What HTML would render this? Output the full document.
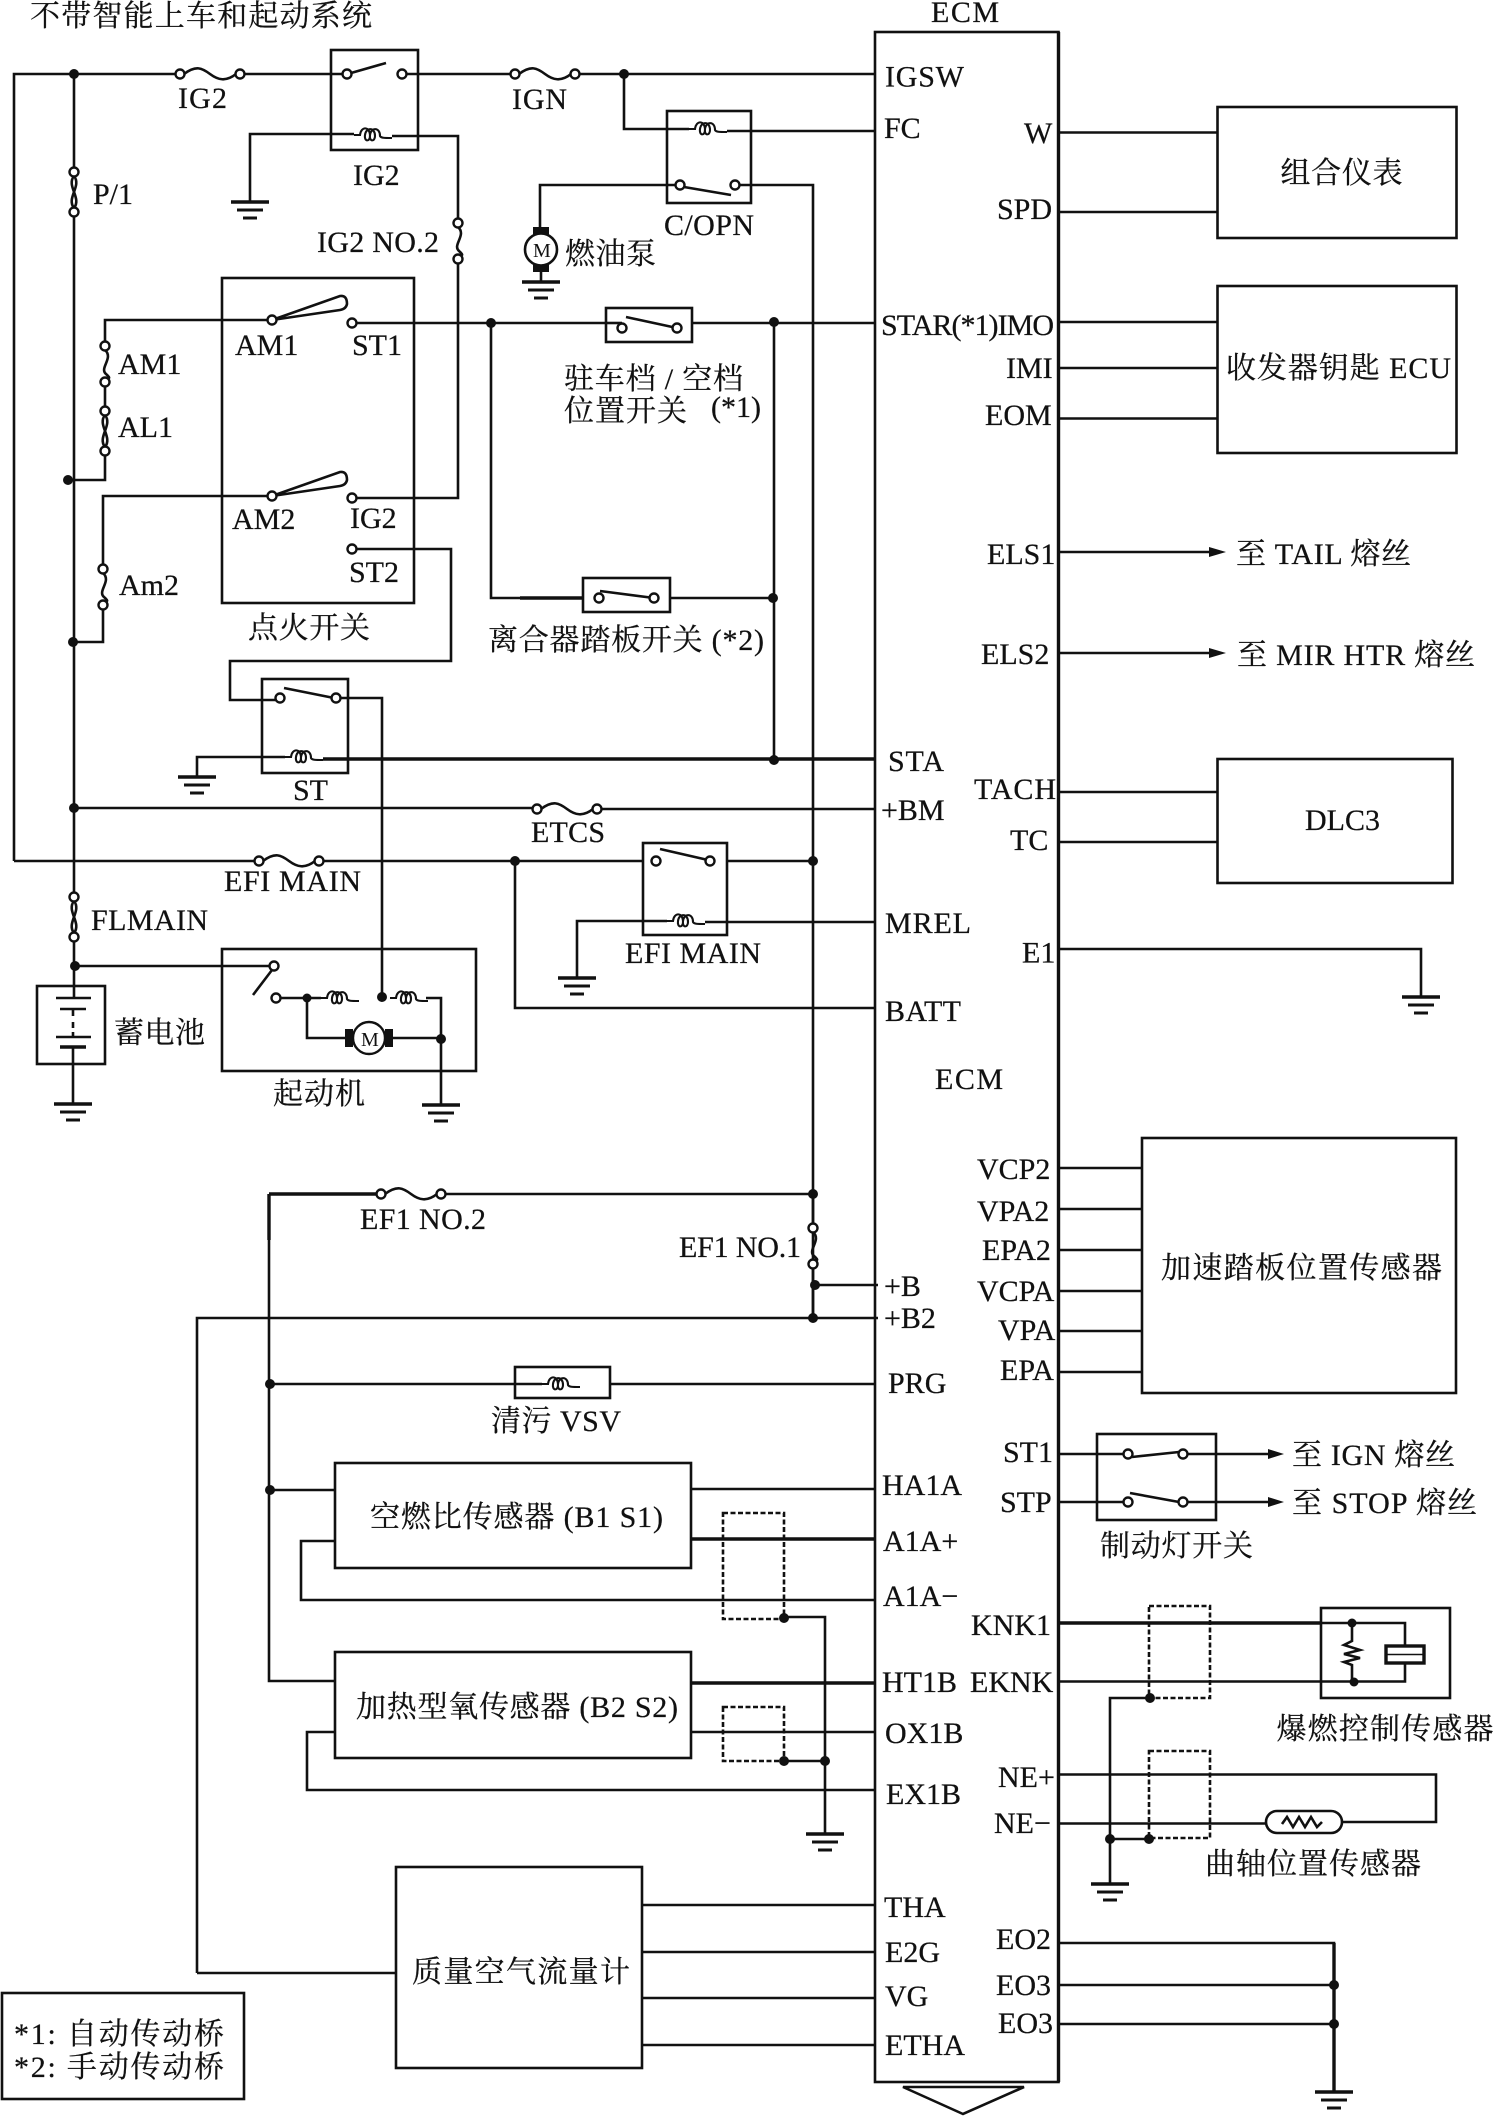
<!DOCTYPE html>
<html><head><meta charset="utf-8"><style>
html,body{margin:0;padding:0;background:#fff}
svg{display:block}
text{font-family:"Liberation Serif","Noto Serif CJK SC",serif;font-size:30px;fill:#111;stroke:#111;stroke-width:.25}
.w path,.w line,.w polyline,.w rect,.w circle{stroke:#111;stroke-width:2.6;fill:none}
.w .t{stroke-width:3.4}
.w .n{fill:#111;stroke:none}
.w .o{fill:#fff;stroke-width:2.4}
.w .d{stroke-dasharray:5 2.5;stroke-width:2.6}
.w .b{fill:#111;stroke:none}
</style></head><body>
<svg width="1494" height="2116" viewBox="0 0 1494 2116" xmlns="http://www.w3.org/2000/svg">
<g class="w">
<defs>
<g id="gnd"><path d="M-19 0H19" style="stroke-width:3.6"/><path d="M-13 8H13" style="stroke-width:3"/><path d="M-7 16H7" style="stroke-width:3"/></g>
<g id="fh"><path d="M4 0C16-9 22-6 30 0S46 8 56 0"/><circle class="o" cx="0" cy="0" r="4.5"/><circle class="o" cx="60" cy="0" r="4.5"/></g>
<g id="fv"><path d="M0 4C9 12 -6 22 1 28S1 32 0 32"/><circle class="o" cx="0" cy="0" r="4.5"/><circle class="o" cx="0" cy="36" r="4.5"/></g>
<g id="fd"><path d="M0 4C8 14-8 26 0 36M0 4C-8 14 8 26 0 36"/><circle class="o" cx="0" cy="0" r="4.5"/><circle class="o" cx="0" cy="40" r="4.5"/></g>
<path id="coil" style="stroke-width:2.1" d="M0 0H6c1-9 10-9 10 1c0 6-6 6-5-1c1-8 10-8 10 1c0 6-6 6-5-1c1-8 10-8 10 1c1 2 4 2 12 2"/>
<g id="mh"><circle class="o" cx="0" cy="0" r="16"/><rect class="b" x="-24" y="-9" width="8" height="18"/><rect class="b" x="16" y="-9" width="8" height="18"/></g>
</defs>
<!-- outer top line -->
<path d="M14 861V74H180M239 74H331M418 74H515M575 74H875"/>
<path d="M74 74V172M74 212V897M74 938V986"/>
<use href="#fh" x="180" y="74"/>
<use href="#fd" x="74" y="172"/>
<circle class="n" cx="74" cy="74" r="5"/>
<!-- IG2 relay -->
<rect x="331" y="50" width="87" height="100"/>
<path d="M351 73L386 63M347 74H331M406 74H418"/>
<circle class="o" cx="347" cy="74" r="4.5"/><circle class="o" cx="402" cy="74" r="4.5"/>
<path d="M250 202V134H354"/>
<use href="#coil" x="354" y="135"/>
<path d="M392 136H458V223M458 258V498H356"/>
<use href="#gnd" x="250" y="202"/>
<use href="#fv" x="458" y="223"/>
<circle class="o" cx="352" cy="498" r="4.5"/>
<!-- IGN -->
<use href="#fh" x="515" y="74"/>
<circle class="n" cx="624" cy="74" r="5"/>
<path d="M624 74V129H689"/>
<rect x="667" y="111" width="84" height="92"/>
<use href="#coil" x="689" y="129"/>
<path d="M727 131H875"/>
<path d="M676 185H540V228M739 185H813V1318"/>
<path d="M684 187L731 195"/>
<circle class="o" cx="680" cy="185" r="4.5"/><circle class="o" cx="735" cy="185" r="4.5"/>
<!-- fuel pump -->
<rect class="b" x="533" y="227" width="16" height="9"/><rect class="b" x="533" y="263" width="16" height="9"/>
<ellipse cx="541" cy="249.500" rx="16" ry="16" fill="#fff" stroke="#111" stroke-width="2.6"/>
<path d="M541 272V282"/>
<use href="#gnd" x="541" y="282"/>
<!-- ignition box -->
<rect x="222" y="278" width="192" height="325"/>
<path d="M268 320H105V346M105 382V411M105 451V480H68"/>
<circle class="n" cx="68" cy="480" r="5"/>
<use href="#fv" x="105" y="346"/><use href="#fd" x="105" y="411"/>
<path d="M272 320L340 296Q347 295 347 304Q346 309 340 310Z" fill="#fff"/>
<circle class="o" cx="272" cy="320" r="4.500"/>
<circle class="o" cx="352" cy="323" r="4.5"/>
<path d="M356 323H606M692 323H875"/>
<rect x="606" y="308" width="86" height="34"/>
<path d="M626 317L677 328"/><circle class="o" cx="622" cy="328" r="4.5"/><circle class="o" cx="677" cy="328" r="4.5"/>
<path d="M622 323H606"/>
<circle class="n" cx="491" cy="323" r="5"/>
<circle class="n" cx="774" cy="322" r="5"/>
<path d="M774 322V760"/>
<path d="M491 323V598H583" /><path class="t" d="M520 598H583"/>
<rect x="583" y="578" width="87" height="34"/>
<path d="M600 591L654 598"/><circle class="o" cx="599" cy="598" r="4.5"/><circle class="o" cx="654" cy="598" r="4.500"/>
<path d="M670 598H773"/><circle class="n" cx="773" cy="598" r="5"/>
<path d="M268 496H103V569M103 605V642H73"/>
<use href="#fv" x="103" y="569"/>
<circle class="n" cx="73" cy="642" r="5"/>
<path d="M272 496L340 472Q347 471 347 480Q346 485 340 486Z" fill="#fff"/>
<circle class="o" cx="272" cy="496" r="4.500"/>
<path d="M356 549H451V661H230V700H262"/>
<circle class="o" cx="352" cy="549" r="4.5"/>
<!-- ST relay -->
<rect x="262" y="679" width="86" height="94"/>
<path d="M284 688L334 698M340 698H382V997M262 700H276"/>
<circle class="o" cx="280" cy="698" r="4.5"/><circle class="o" cx="336" cy="698" r="4.5"/>
<path d="M197 777V757H285"/><use href="#coil" x="285" y="757"/>
<path class="t" d="M323 759H875"/>
<use href="#gnd" x="197" y="777"/>
<circle class="n" cx="774" cy="760" r="5"/>
<!-- +BM -->
<circle class="n" cx="74" cy="808" r="5"/>
<path d="M74 808H537M597 809H875"/>
<use href="#fh" x="537" y="809"/>
<path d="M14 861H259M320 861H643M727 861H813"/>
<use href="#fh" x="259" y="861"/>
<circle class="n" cx="515" cy="861" r="5"/>
<path d="M515 861V1008H875"/>
<rect x="643" y="843" width="84" height="92"/>
<path d="M660 849L708 860"/><circle class="o" cx="656" cy="861" r="4.5"/><circle class="o" cx="710" cy="861" r="4.5"/>
<circle class="n" cx="813" cy="861" r="5"/>
<path d="M577 978V921H667"/><use href="#coil" x="667" y="921"/><path d="M705 922H875"/>
<use href="#gnd" x="577" y="978"/>
<!-- FL main, battery -->
<use href="#fd" x="74" y="897"/>
<circle class="n" cx="75" cy="966" r="5"/>
<path d="M75 966H270"/>
<rect x="37" y="986" width="68" height="78"/>
<path d="M74 986V998" /><path d="M56 998H91M60 1009H86"/>
<path d="M73 1009V1016M73 1022V1028M73 1032V1037M56 1037H91"/><path class="t" d="M60 1047H86"/>
<path d="M73 1047V1104"/>
<use href="#gnd" x="73" y="1104"/>
<!-- starter -->
<rect x="222" y="949" width="254" height="122"/>
<path d="M272 970L253 995"/>
<circle class="o" cx="274" cy="966" r="4.5"/><circle class="o" cx="276" cy="998" r="4.5"/>
<path d="M281 998H321"/><circle class="n" cx="307" cy="998" r="4.5"/>
<use href="#coil" x="321" y="998"/><circle class="n" cx="382" cy="997" r="5"/>
<use href="#coil" x="390" y="998"/><path d="M426 998H441V1105"/>
<path d="M307 998V1038H347M391 1038H441"/>
<use href="#mh" x="369" y="1038"/>
<circle class="n" cx="441" cy="1039" r="5"/>
<use href="#gnd" x="441" y="1105"/>
<!-- EF1 -->
<path class="t" d="M269 1194V1240M269 1194H381"/>
<path d="M441 1194H813"/>
<use href="#fh" x="381" y="1194"/>
<circle class="n" cx="813" cy="1194" r="5"/>
<path d="M813 1194V1228M813 1263V1318"/>
<use href="#fv" x="813" y="1228"/>
<circle class="n" cx="815" cy="1285" r="5"/>
<path d="M815 1285H878"/>
<path d="M197 1973V1318H878"/><circle class="n" cx="813" cy="1318" r="5"/>
<path d="M269 1194V1681H335"/>
<circle class="n" cx="270" cy="1384" r="5"/>
<path d="M270 1384H515M610 1384H875"/>
<rect x="515" y="1367" width="95" height="31"/>
<use href="#coil" x="542" y="1384"/>
<path d="M515 1384H542"/>
<!-- A/F sensor -->
<rect x="335" y="1463" width="356" height="105"/>
<circle class="n" cx="270" cy="1490" r="5"/><path d="M270 1490H335"/>
<path d="M335 1541H301V1600H875"/>
<path d="M691 1489H875"/><path class="t" d="M691 1539H875"/>
<rect class="d" x="723" y="1513" width="61" height="106"/>
<circle class="n" cx="784" cy="1618" r="5"/>
<path d="M784 1617H825V1834"/>
<use href="#gnd" x="825" y="1834"/>
<!-- O2 -->
<rect x="335" y="1652" width="356" height="106"/>
<path class="t" d="M691 1683H875"/>
<path d="M691 1732H875"/>
<path d="M335 1732H307V1790H875"/>
<rect class="d" x="723" y="1707" width="61" height="54"/>
<path d="M784 1761H825"/>
<circle class="n" cx="784" cy="1761" r="5"/><circle class="n" cx="825" cy="1761" r="5"/>
<!-- MAF -->
<rect x="396" y="1867" width="246" height="201"/>
<path d="M197 1973H396"/>
<path d="M642 1905H875M642 1952H875M642 1998H875M642 2045H875"/>
<!-- legend -->
<rect x="2" y="1993" width="242" height="106"/>
<!-- ECM -->
<rect x="875" y="32" width="183.500" height="2050"/>
<path class="t" d="M1058.500 32V2082"/>
<path d="M903 2087H1024L963 2114Z"/>
<!-- Right side -->
<rect x="1217.500" y="107" width="239" height="131"/>
<path d="M1059 132.500H1217M1059 212H1217"/>
<rect x="1217.500" y="286" width="239" height="167"/>
<path d="M1059 322H1217M1059 368H1217M1059 418.500H1217"/>
<path d="M1059 552H1210M1059 653H1210"/>
<path class="n" d="M1209 547L1226 552L1209 557Z"/><path class="n" d="M1209 648L1226 653L1209 658Z"/>
<rect x="1217.500" y="759" width="235" height="124"/>
<path d="M1059 792H1217M1059 842H1217"/>
<path d="M1059 949H1421V997"/>
<use href="#gnd" x="1421" y="997"/>
<rect x="1142" y="1138" width="314" height="255"/>
<path d="M1059 1168H1142M1059 1209H1142M1059 1250H1142M1059 1291H1142M1059 1331H1142M1059 1372H1142"/>
<rect x="1097" y="1434" width="119" height="86"/>
<path d="M1059 1454H1123M1188 1454H1268M1059 1502H1123M1188 1502H1268"/>
<path d="M1132 1457L1179 1452M1130 1493L1179 1502"/>
<circle class="o" cx="1128" cy="1454" r="4.5"/><circle class="o" cx="1183" cy="1454" r="4.5"/>
<circle class="o" cx="1128" cy="1502" r="4.5"/><circle class="o" cx="1183" cy="1502" r="4.5"/>
<path class="n" d="M1268 1449L1284 1454L1268 1459Z"/><path class="n" d="M1268 1497L1284 1502L1268 1507Z"/>
<!-- Knock -->
<path class="t" d="M1059 1623H1321"/>
<path d="M1321 1623H1405V1646M1059 1681.500H1405V1663"/>
<rect x="1321" y="1608" width="129" height="90"/>
<rect class="t" x="1386" y="1646" width="38" height="17"/>
<path d="M1386 1654.500H1424" style="stroke-width:1.4"/>
<path d="M1352 1623V1641L1344 1645L1360 1650L1344 1654L1360 1658L1344 1662L1352 1665V1681" />
<circle class="n" cx="1352" cy="1623" r="4.5"/><circle class="n" cx="1354" cy="1682" r="4.5"/>
<rect class="d" x="1149" y="1606" width="61" height="92"/>
<circle class="n" cx="1150" cy="1698" r="5"/>
<path d="M1150 1698H1110V1884"/>
<use href="#gnd" x="1110" y="1884"/>
<rect class="d" x="1149" y="1751" width="61" height="87"/>
<path d="M1059 1774.500H1436V1822H1342M1059 1823.500H1266"/>
<rect x="1266" y="1811" width="76" height="22" rx="11" fill="#fff"/>
<path d="M1282 1824L1287 1817L1293 1827L1299 1817L1305 1827L1311 1817L1317 1827L1322 1822"/>
<circle class="n" cx="1110" cy="1839" r="5"/><circle class="n" cx="1149" cy="1839" r="5"/>
<path d="M1110 1839H1149"/>
<path d="M1059 1943H1334V2092M1059 1985H1334M1059 2024H1334"/><path class="t" d="M1334 1943V2092"/>
<circle class="n" cx="1334" cy="1985" r="5"/><circle class="n" cx="1334" cy="2024" r="5"/>
<use href="#gnd" x="1334" y="2092"/>
</g>
<!-- motor letter M -->
<text x="533" y="257" style="font-size:20px;stroke:none">M</text>
<text x="361" y="1046" style="font-size:20px;stroke:none">M</text>
<!-- Labels -->
<text x="30" y="26" textLength="342">不带智能上车和起动系统</text>
<text x="178" y="108" textLength="49">IG2</text><text x="512" y="109" textLength="55">IGN</text>
<text x="353" y="185">IG2</text><text x="93" y="204">P/1</text>
<text x="317" y="252" textLength="122">IG2 NO.2</text>
<text x="664" y="235" textLength="90">C/OPN</text><text x="565" y="264" textLength="91">燃油泵</text>
<text x="235" y="355">AM1</text><text x="352" y="355">ST1</text>
<text x="118" y="374">AM1</text><text x="118" y="437">AL1</text>
<text x="232" y="529">AM2</text><text x="350" y="528">IG2</text>
<text x="349" y="582">ST2</text><text x="119" y="595">Am2</text>
<text x="248" y="638" textLength="122">点火开关</text>
<text x="564" y="389" textLength="179">驻车档 / 空档</text>
<text x="564" y="421" textLength="123">位置开关</text><text x="711" y="417">(*1)</text>
<text x="488" y="650" textLength="276">离合器踏板开关 (*2)</text>
<text x="293" y="800">ST</text><text x="531" y="842" textLength="74">ETCS</text>
<text x="224" y="891" textLength="137">EFI MAIN</text>
<text x="91" y="930" textLength="117">FLMAIN</text>
<text x="625" y="963" textLength="136">EFI MAIN</text>
<text x="114" y="1043" textLength="91">蓄电池</text><text x="273" y="1104" textLength="92">起动机</text>
<text x="360" y="1229" textLength="126">EF1 NO.2</text>
<text x="679" y="1257" textLength="122">EF1 NO.1</text>
<text x="491" y="1431" textLength="130">清污 VSV</text>
<text x="370" y="1527" textLength="293">空燃比传感器 (B1 S1)</text>
<text x="356" y="1717" textLength="322">加热型氧传感器 (B2 S2)</text>
<text x="412" y="1982" textLength="218">质量空气流量计</text>
<text x="14" y="2044" textLength="210">*1: 自动传动桥</text>
<text x="14" y="2077" textLength="210">*2: 手动传动桥</text>
<!-- ECM labels -->
<text x="931" y="22" textLength="68">ECM</text><text x="935" y="1089" textLength="68">ECM</text>
<text x="885" y="86.500" textLength="79">IGSW</text><text x="884" y="138">FC</text>
<text x="1024" y="143">W</text><text x="997" y="219">SPD</text>
<text x="881" y="335" textLength="173">STAR(*1)IMO</text>
<text x="1006" y="378">IMI</text><text x="985" y="425">EOM</text>
<text x="987" y="564">ELS1</text><text x="981" y="664">ELS2</text>
<text x="888" y="771" textLength="56">STA</text><text x="881" y="820">+BM</text>
<text x="974" y="799" textLength="82">TACH</text><text x="1010" y="850">TC</text>
<text x="885" y="933" textLength="86">MREL</text><text x="1022" y="962.500">E1</text>
<text x="885" y="1021" textLength="76">BATT</text>
<text x="1280.500" y="183" textLength="122">组合仪表</text>
<text x="1226" y="378" textLength="225">收发器钥匙 ECU</text>
<text x="1236" y="564" textLength="175">至 TAIL 熔丝</text>
<text x="1237" y="665" textLength="238">至 MIR HTR 熔丝</text>
<text x="1305" y="830">DLC3</text>
<text x="977" y="1179">VCP2</text><text x="977" y="1221">VPA2</text><text x="982" y="1260">EPA2</text>
<text x="977" y="1301">VCPA</text><text x="998" y="1340">VPA</text><text x="1000" y="1380">EPA</text>
<text x="884" y="1296">+B</text><text x="884" y="1328">+B2</text><text x="888" y="1393">PRG</text>
<text x="1003" y="1462">ST1</text><text x="1000" y="1512">STP</text>
<text x="882" y="1495">HA1A</text><text x="883" y="1551">A1A+</text><text x="883" y="1606">A1A−</text>
<text x="971" y="1635">KNK1</text><text x="882" y="1692">HT1B</text><text x="970" y="1692">EKNK</text>
<text x="885" y="1743">OX1B</text><text x="886" y="1804">EX1B</text>
<text x="998" y="1787">NE+</text><text x="994" y="1833">NE−</text>
<text x="884" y="1917">THA</text><text x="885" y="1962">E2G</text><text x="885" y="2006">VG</text><text x="885" y="2055">ETHA</text>
<text x="996" y="1949">EO2</text><text x="996" y="1995">EO3</text><text x="998" y="2033">EO3</text>
<text x="1161" y="1278" textLength="281">加速踏板位置传感器</text>
<text x="1292" y="1465" textLength="163">至 IGN 熔丝</text>
<text x="1292" y="1513" textLength="185">至 STOP 熔丝</text>
<text x="1100" y="1556" textLength="153">制动灯开关</text>
<text x="1276.500" y="1739" textLength="217">爆燃控制传感器</text>
<text x="1205" y="1874" textLength="216">曲轴位置传感器</text>
</svg>
</body></html>
